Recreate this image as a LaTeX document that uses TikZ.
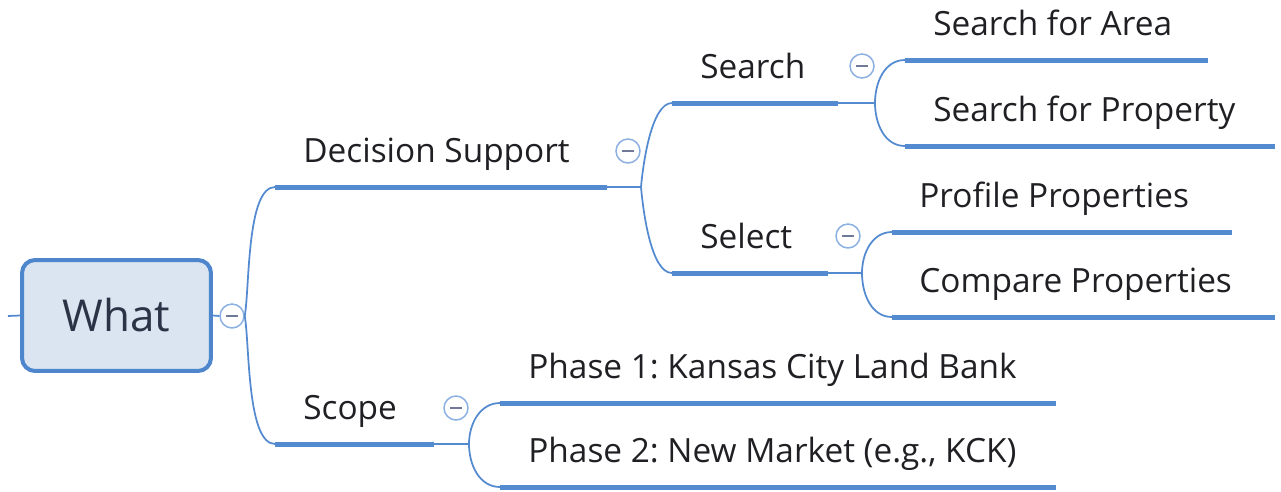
\documentclass[tikz,border=0pt]{standalone}
\usepackage{fontspec}
\setmainfont{Open Sans}
\usepackage{xcolor}
\definecolor{mapblue}{RGB}{84,139,208}
\definecolor{rootline}{RGB}{78,134,206}
\definecolor{rootfill}{RGB}{219,229,241}
\definecolor{foldline}{RGB}{141,176,226}
\definecolor{foldminus}{RGB}{112,122,152}
\definecolor{ink}{RGB}{32,32,36}
\definecolor{rootink}{RGB}{42,52,70}
\frenchspacing

\begin{document}
\begin{tikzpicture}[
        x=0.02cm, y=0.02cm,
        root/.style={rectangle, rounded corners=0.26cm, draw=rootline, line width=0.08cm, fill=rootfill, minimum width=3.78cm, minimum height=2.22cm, inner sep=0pt, text=rootink, font=\fontsize{25}{30}\selectfont},
        topic/.style={anchor=base west, inner sep=0pt, text=ink, font=\fontsize{19}{23}\selectfont},
        fold/.style={circle, draw=foldline, line width=0.03cm, fill=white, minimum size=0.48cm, inner sep=0pt,
            path picture={\draw[foldminus, line width=0.035cm] ([xshift=-0.12cm]path picture bounding box.center) -- ([xshift=0.12cm]path picture bounding box.center);}},
        uline/.style={draw=mapblue, line width=0.1cm},
        branch/.style={draw=mapblue, line width=0.035cm}
    ]

    % Canvas
    \useasboundingbox (0,0) rectangle (1281,-491);

    % Central topic
    \coordinate (stub) at (8,-316);
    \node[root] (what) at (116.5,-315.5) {What};
    \node[fold] (whatfold) at (232,-316) {};
    \draw[branch] (stub) -- (what.west);
    \draw[branch] (what.east) -- (whatfold.west);

    % Decision Support
    \coordinate (dsupL) at (275,-187);
    \coordinate (dsupR) at (607,-187);
    \coordinate (dsupJ) at (641,-187);
    \node[topic] (dsup) at (303,-162) {Decision Support};
    \node[fold] (dsupfold) at (628,-151) {};
    \draw[uline] (dsupL) -- (dsupR);
    \draw[branch] (dsupR) -- (dsupJ);

    % Scope
    \coordinate (scopeL) at (275,-444);
    \coordinate (scopeR) at (434,-444);
    \coordinate (scopeJ) at (469,-444);
    \node[topic] (scope) at (303,-419) {Scope};
    \node[fold] (scopefold) at (456,-408) {};
    \draw[uline] (scopeL) -- (scopeR);
    \draw[branch] (scopeR) -- (scopeJ);

    \draw[branch] (whatfold.east) to[out=80, in=180, looseness=0.55] (dsupL);
    \draw[branch] (whatfold.east) to[out=-80, in=180, looseness=0.55] (scopeL);

    % Search
    \coordinate (searchL) at (672,-103);
    \coordinate (searchR) at (838,-103);
    \coordinate (searchJ) at (875,-103);
    \node[topic] (search) at (700,-78) {Search};
    \node[fold] (searchfold) at (862,-66) {};
    \draw[uline] (searchL) -- (searchR);
    \draw[branch] (searchR) -- (searchJ);

    % Select
    \coordinate (selectL) at (672,-273);
    \coordinate (selectR) at (828,-273);
    \coordinate (selectJ) at (862,-273);
    \node[topic] (select) at (700,-248) {Select};
    \node[fold] (selectfold) at (848,-236) {};
    \draw[uline] (selectL) -- (selectR);
    \draw[branch] (selectR) -- (selectJ);

    \draw[branch] (dsupJ) to[out=85, in=180, looseness=0.6] (searchL);
    \draw[branch] (dsupJ) to[out=-85, in=180, looseness=0.6] (selectL);

    % Search leaves
    \coordinate (areaL) at (905,-60);
    \coordinate (areaR) at (1208,-60);
    \node[topic] (area) at (933,-35) {Search for Area};
    \draw[uline] (areaL) -- (areaR);

    \coordinate (propL) at (905,-146);
    \coordinate (propR) at (1275,-146);
    \node[topic] (prop) at (933,-121) {Search for Property};
    \draw[uline] (propL) -- (propR);

    \draw[branch] (searchJ) to[out=90, in=180] (areaL);
    \draw[branch] (searchJ) to[out=-90, in=180] (propL);

    % Select leaves
    \coordinate (profL) at (892,-232);
    \coordinate (profR) at (1232,-232);
    \node[topic] (prof) at (919,-207) {Profile Properties};
    \draw[uline] (profL) -- (profR);

    \coordinate (compL) at (892,-317);
    \coordinate (compR) at (1275,-317);
    \node[topic] (comp) at (919,-292) {Compare Properties};
    \draw[uline] (compL) -- (compR);

    \draw[branch] (selectJ) to[out=90, in=180] (profL);
    \draw[branch] (selectJ) to[out=-90, in=180] (compL);

    % Scope leaves
    \coordinate (phaseaL) at (500,-403);
    \coordinate (phaseaR) at (1056,-403);
    \node[topic] (phasea) at (528,-378) {Phase 1: Kansas City Land Bank};
    \draw[uline] (phaseaL) -- (phaseaR);

    \coordinate (phasebL) at (500,-487);
    \coordinate (phasebR) at (1056,-487);
    \node[topic] (phaseb) at (528,-462) {Phase 2: New Market (e.g., KCK)};
    \draw[uline] (phasebL) -- (phasebR);

    \draw[branch] (scopeJ) to[out=90, in=180] (phaseaL);
    \draw[branch] (scopeJ) to[out=-90, in=180] (phasebL);

\end{tikzpicture}
\end{document}
